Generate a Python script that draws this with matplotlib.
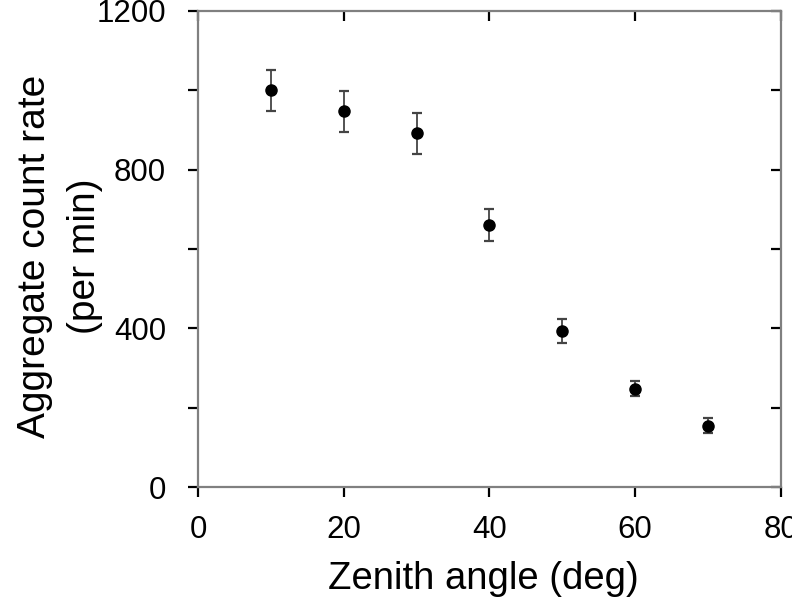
import matplotlib
matplotlib.use("Agg")
import matplotlib.pyplot as plt

plt.rcParams['font.family'] = ['Liberation Sans', 'DejaVu Sans']

# data
zenith_deg = [10, 20, 30, 40, 50, 60, 70]
count_rate = [1000, 947, 891, 661, 393, 248, 155]
count_err = [52, 52, 51, 40, 31, 18, 19]


def main():
    fig = plt.figure(figsize=(7.92, 6.02), dpi=100)
    ax = fig.add_axes([0.25, 0.191, 0.736, 0.791])

    ax.errorbar(zenith_deg, count_rate, yerr=count_err, fmt="o", color="black",
                ecolor="#444444", elinewidth=1.3, capsize=3.3, capthick=1.6,
                markersize=8)

    ax.set_xlim(0, 80)
    ax.set_ylim(0, 1200)
    ax.set_xticks([0, 20, 40, 60, 80])
    ax.set_yticks([0, 400, 800, 1200])
    ax.set_yticks([200, 600, 1000], minor=True)

    # bottom/left ticks point out, top/right point in
    ax.tick_params(axis="both", which="both", direction="out", length=7,
                   width=1.6, color="black", labelsize=22.5)
    ax.tick_params(axis="x", which="major", pad=13)
    ax.tick_params(axis="y", which="major", pad=16)
    sec_x = ax.secondary_xaxis("top")
    sec_x.set_xticks([0, 20, 40, 60, 80])
    sec_x.tick_params(direction="in", length=7, width=1.6, labeltop=False)
    sec_y = ax.secondary_yaxis("right")
    sec_y.set_yticks([0, 400, 800, 1200])
    sec_y.set_yticks([200, 600, 1000], minor=True)
    sec_y.tick_params(which="both", direction="in", length=7, width=1.6,
                      labelright=False)

    for spine in ax.spines.values():
        spine.set_linewidth(1.6)
        spine.set_color("#808080")
    sec_x.spines["top"].set_visible(False)
    sec_y.spines["right"].set_visible(False)

    ax.set_xlabel("Zenith angle (deg)", fontsize=27.5)
    ax.xaxis.set_label_coords(0.49, -0.155)
    ax.set_ylabel("Aggregate count rate\n(per min)", fontsize=28,
                  linespacing=1.5)
    ax.yaxis.set_label_coords(-0.163, 0.485)

    fig.savefig("out.png", dpi=100)


if __name__ == "__main__":
    main()
